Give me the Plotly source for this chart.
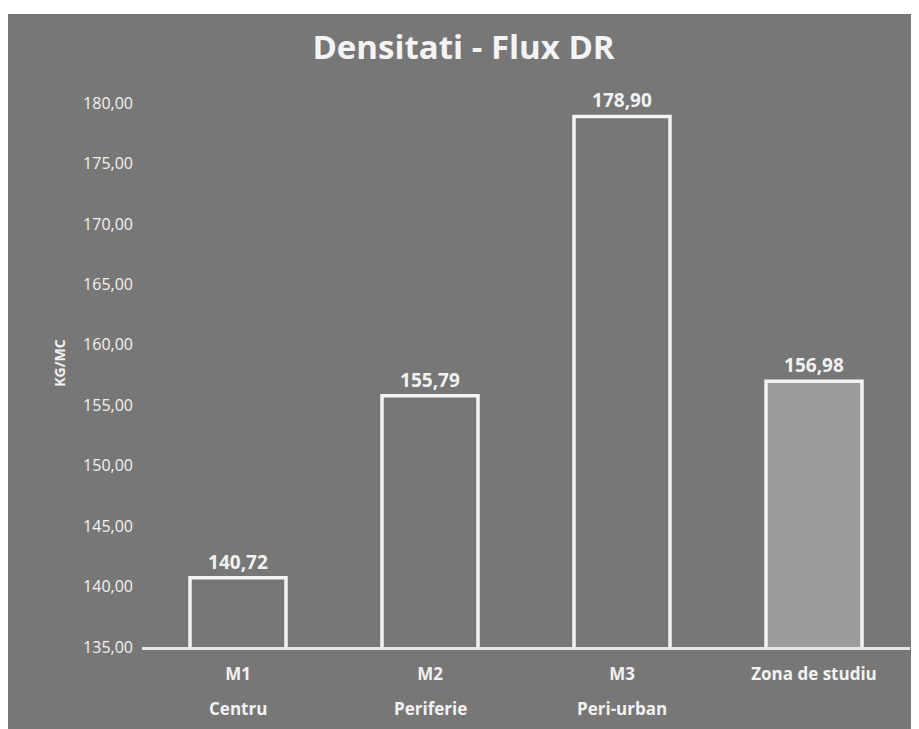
import plotly.graph_objects as go

categories = ["M1", "M2", "M3", "Zona de studiu"]
subtitles = ["Centru", "Periferie", "Peri-urban", ""]
values = [140.72, 155.79, 178.90, 156.98]
fill_colors = ["rgba(0,0,0,0)", "rgba(0,0,0,0)", "rgba(0,0,0,0)", "#9c9c9c"]
tick_vals = [135, 140, 145, 150, 155, 160, 165, 170, 175, 180]

BG = "#777777"
FONT = "Open Sans"
TXT = "#f2f2f2"

fig = go.Figure()
fig.add_trace(go.Bar(
    x=categories, y=values,
    marker=dict(color=fill_colors, line=dict(color="#f4f4f4", width=3.5)),
    width=0.5,
    text=[f"<b>{v:.2f}</b>".replace(".", ",") for v in values],
    textposition="outside",
    textfont=dict(color=TXT, size=19, family=FONT),
    cliponaxis=False,
))

# white strip at top of the scanned page
fig.add_shape(type="rect", xref="paper", yref="paper",
              x0=-0.2, x1=1.02, y0=1.1144, y1=1.2,
              fillcolor="white", line=dict(width=0), layer="below")

for c, s in zip(categories, subtitles):
    if s:
        fig.add_annotation(x=c, y=135, xref="x", yref="y", text=f"<b>{s}</b>",
                           showarrow=False, yanchor="middle", yshift=-61,
                           font=dict(size=17, color=TXT, family=FONT))

fig.update_layout(
    width=911, height=721,
    margin=dict(l=134, r=9, t=71, b=82),
    paper_bgcolor=BG,
    plot_bgcolor="rgba(0,0,0,0)",
    separators=",.",
    showlegend=False,
    title=dict(text="<b>Densitati - Flux DR</b>", x=0.5, xanchor="center",
               y=0.945, yanchor="middle",
               font=dict(size=33, color="#f4f4f4", family=FONT)),
    xaxis=dict(showgrid=False, showline=True, linecolor="#e6e6e6", linewidth=2.5,
               ticks="", ticklabelstandoff=10,
               tickfont=dict(size=17, color=TXT, family=FONT),
               tickprefix="<b>", ticksuffix="</b>"),
    yaxis=dict(range=[135, 182], showgrid=False, zeroline=False, showline=False,
               tickvals=tick_vals, ticks="", ticklabelstandoff=8,
               ticktext=[f"{t:.2f}".replace(".", ",") for t in tick_vals],
               tickfont=dict(size=16, color=TXT, family=FONT),
               title=dict(text="<b>KG/MC</b>", font=dict(size=14, color=TXT, family=FONT),
                          standoff=14)),
)
fig.write_html("out.html")
